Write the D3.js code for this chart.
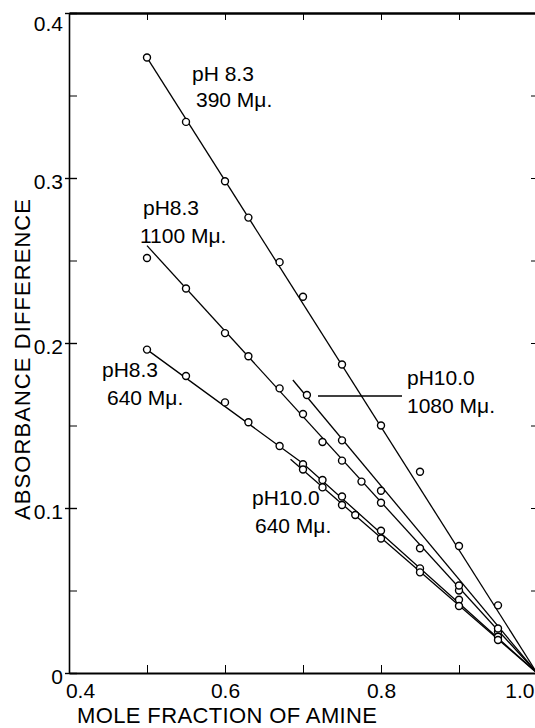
<!DOCTYPE html>
<html>
<head>
<meta charset="utf-8">
<script src="https://cdn.jsdelivr.net/npm/d3@7/dist/d3.min.js"></script>
<style>
  body { margin: 0; background: #fff; }
  svg { display: block; background: #fff; font-family: "Liberation Sans", Arial, sans-serif; }
  .axis path, .axis line { stroke: #000; }
  .axis text { font-size: 21px; fill: #000; font-family: "Liberation Sans", Arial, sans-serif; }
  .fit { fill: none; stroke: #000; stroke-width: 1.3; }
  .pt { fill: #fff; stroke: #000; stroke-width: 1.4; }
  .note { font-size: 21px; fill: #000; }
  .title { font-size: 22px; fill: #000; }
</style>
</head>
<body>
<div id="chart"></div>
<script>
// Tick values
var xTickValues = [0.4, 0.5, 0.6, 0.7, 0.8, 0.9, 1.0];
var xLabelTicks = [0.4, 0.6, 0.8, 1.0];
var yMajorTicks = [0, 0.1, 0.2, 0.3, 0.4];
var yMinorTicks = [0.05, 0.15, 0.25, 0.35];
var yAllTicks = [0.05, 0.1, 0.15, 0.2, 0.25, 0.3, 0.35];

// pH 8.3, 390 mu
var x390 = [0.5, 0.55, 0.6, 0.63, 0.67, 0.7, 0.75, 0.8, 0.85, 0.9, 0.95];
var y390 = [0.373, 0.334, 0.298, 0.276, 0.249, 0.228, 0.187, 0.150, 0.122, 0.077, 0.041];
var fit390X = [0.5, 1.0];
var fit390Y = [0.373, 0];

// pH 8.3, 1100 mu
var x1100 = [0.5, 0.55, 0.6, 0.63, 0.67, 0.7, 0.725, 0.75, 0.775, 0.8, 0.85, 0.9, 0.95];
var y1100 = [0.2515, 0.233, 0.206, 0.192, 0.1725, 0.157, 0.140, 0.1287, 0.116, 0.1032, 0.0756, 0.050, 0.025];
var fit1100X = [0.5, 1.0];
var fit1100Y = [0.259, 0];

// pH 10.0, 1080 mu
var x1080 = [0.705, 0.75, 0.8, 0.9, 0.95];
var y1080 = [0.1685, 0.141, 0.1105, 0.053, 0.027];
var fit1080X = [0.687, 1.0];
var fit1080Y = [0.1776, 0];

// pH 8.3, 640 mu
var x640a = [0.5, 0.55, 0.6, 0.63, 0.67, 0.7, 0.725, 0.75, 0.8, 0.85, 0.9, 0.95];
var y640a = [0.196, 0.180, 0.164, 0.152, 0.1376, 0.1265, 0.117, 0.107, 0.0862, 0.0634, 0.0444, 0.022];
var fit640aX = [0.5, 0.7, 1.0];
var fit640aY = [0.196, 0.127, 0];

// pH 10.0, 640 mu
var x640b = [0.7, 0.725, 0.75, 0.767, 0.8, 0.85, 0.9, 0.95];
var y640b = [0.1233, 0.1125, 0.1018, 0.0958, 0.0815, 0.061, 0.0406, 0.020];
var fit640bX = [0.684, 1.0];
var fit640bY = [0.1295, 0];

// Curve labels
var labelTop = ["pH 8.3", "pH8.3", "pH8.3", "pH10.0", "pH10.0"];
var labelBottom = ["390 Mμ.", "1100 Mμ.", "640 Mμ.", "1080 Mμ.", "640 Mμ."];

//SVG size
var svgWidth = 535;
var svgHeight = 728;

var margin = { top: 13, right: -2, bottom: 55, left: 69 };
var chartWidth = svgWidth - margin.left - margin.right;
var chartHeight = svgHeight - margin.top - margin.bottom;

var svg = d3.select("#chart")
    .append("svg")
    .attr("width", svgWidth)
    .attr("height", svgHeight);

var chartGroup = svg.append("g")
    .attr("transform", `translate(${margin.left}, ${margin.top})`);

//Scales
var xScale = d3.scaleLinear().domain([0.4, 1.0]).range([0, chartWidth]);
var yScale = d3.scaleLinear().domain([0, 0.4]).range([chartHeight, 0]);

var fmt = d3.format(".1f");

//Bottom axis (ticks point inward)
var bottomAxisG = chartGroup.append("g")
    .attr("class", "axis")
    .attr("transform", `translate(0, ${chartHeight})`)
    .call(d3.axisBottom(xScale)
        .tickValues(xTickValues)
        .tickSizeInner(-8)
        .tickSizeOuter(0)
        .tickFormat(d => xLabelTicks.indexOf(d) >= 0 ? fmt(d) : ""));
bottomAxisG.select(".domain").attr("stroke-width", 2.2);
bottomAxisG.selectAll(".tick text")
    .attr("y", 25)
    .attr("dy", null)
    .attr("text-anchor", d => d === 1.0 ? "end" : "middle")
    .attr("dx", d => d === 0.4 ? 11 : (d === 1.0 ? -3 : 0));

//Top axis
var topAxisG = chartGroup.append("g")
    .attr("class", "axis")
    .call(d3.axisTop(xScale)
        .tickValues([0.5, 0.6, 0.7, 0.8, 0.9])
        .tickSizeInner(-7)
        .tickSizeOuter(0)
        .tickFormat(""));
topAxisG.select(".domain").attr("stroke-width", 2.6);

//Left axis, major ticks cross the line
var leftAxisG = chartGroup.append("g")
    .attr("class", "axis")
    .call(d3.axisLeft(yScale)
        .tickValues(yMajorTicks)
        .tickSizeInner(-8)
        .tickSizeOuter(0)
        .tickFormat(d => d === 0 ? "0" : fmt(d)));
leftAxisG.select(".domain").attr("stroke-width", 1.6);
leftAxisG.selectAll(".tick line").attr("x1", -4).attr("stroke-width", 1.4);
leftAxisG.selectAll(".tick text")
    .attr("x", -6)
    .attr("dy", null)
    .attr("y", d => d === 0.4 ? 17 : 10);

//Left minor ticks
chartGroup.append("g")
    .attr("class", "axis")
    .call(d3.axisLeft(yScale)
        .tickValues(yMinorTicks)
        .tickSizeInner(-8)
        .tickSizeOuter(0)
        .tickFormat(""))
    .select(".domain").remove();

//Right axis
chartGroup.append("g")
    .attr("class", "axis")
    .attr("transform", `translate(${chartWidth}, 0)`)
    .call(d3.axisRight(yScale)
        .tickValues(yAllTicks)
        .tickSizeInner(-6)
        .tickSizeOuter(0)
        .tickFormat(""))
    .select(".domain").attr("stroke-width", 1.6);

//Series table
var series = [
    { xs: x390, ys: y390, fx: fit390X, fy: fit390Y },
    { xs: x1100, ys: y1100, fx: fit1100X, fy: fit1100Y },
    { xs: x1080, ys: y1080, fx: fit1080X, fy: fit1080Y },
    { xs: x640a, ys: y640a, fx: fit640aX, fy: fit640aY },
    { xs: x640b, ys: y640b, fx: fit640bX, fy: fit640bY }
];

var line = d3.line()
    .x(d => xScale(d[0]))
    .y(d => yScale(d[1]));

//Fitted lines
chartGroup.selectAll(".fit")
    .data(series)
    .enter()
    .append("path")
    .attr("class", "fit")
    .attr("d", s => line(d3.zip(s.fx, s.fy)));

//Points
series.forEach(function(s) {
    chartGroup.selectAll(null)
        .data(d3.zip(s.xs, s.ys))
        .enter()
        .append("circle")
        .attr("class", "pt")
        .attr("cx", d => xScale(d[0]))
        .attr("cy", d => yScale(d[1]))
        .attr("r", 3.5);
});

//Curve labels (pixel positions of the two text lines)
var labelPos = [
    [192, 81, 196, 107],
    [143, 215, 140, 243],
    [102, 377, 107, 405],
    [407, 385, 407, 413],
    [252, 505, 255, 533]
];
labelPos.forEach(function(p, i) {
    svg.append("text").attr("class", "note").attr("x", p[0]).attr("y", p[1]).text(labelTop[i]);
    svg.append("text").attr("class", "note").attr("x", p[2]).attr("y", p[3]).text(labelBottom[i]);
});

//Leader line for the pH 10.0 1080 label
svg.append("line")
    .attr("x1", 318).attr("y1", 396)
    .attr("x2", 402).attr("y2", 396)
    .attr("stroke", "#000")
    .attr("stroke-width", 1.3);

//Axis titles
svg.append("text")
    .attr("class", "title")
    .attr("x", 77)
    .attr("y", 723)
    .attr("textLength", 300)
    .attr("lengthAdjust", "spacing")
    .text("MOLE FRACTION OF AMINE");

svg.append("text")
    .attr("class", "title")
    .attr("transform", "translate(30, 520) rotate(-90)")
    .attr("textLength", 321)
    .attr("lengthAdjust", "spacing")
    .text("ABSORBANCE DIFFERENCE");
</script>
</body>
</html>
